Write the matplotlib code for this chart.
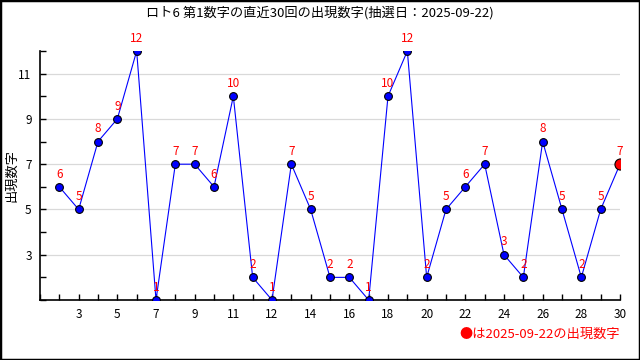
import matplotlib
matplotlib.use("Agg")
from matplotlib import pyplot as plt
from matplotlib.patches import Rectangle

plt.rcParams["font.family"] = ["Noto Sans CJK JP", "DejaVu Sans"]

draw_date = "2025-09-22"
draws = list(range(1, 31))
numbers = [6, 5, 8, 9, 12, 1, 7, 7, 6, 10, 2, 1, 7, 5, 2, 2, 1, 10, 12, 2,
           5, 6, 7, 3, 2, 8, 5, 2, 5, 7]
x_tick_pos = [2, 4, 6, 8, 10, 12, 14, 16, 18, 20, 22, 24, 26, 28, 30]
x_tick_labels = ["3", "5", "7", "9", "11", "12", "14", "16", "18", "20",
                 "22", "24", "26", "28", "30"]
y_grid = [3, 5, 7, 9, 11]

fig = plt.figure(figsize=(6.4, 3.6), dpi=100)
ax = fig.add_axes([40 / 640, 60 / 360, 580 / 640, 249 / 360])

ax.plot(draws, numbers, color="#0000ff", linewidth=0.8, zorder=3)
ax.plot(draws[:-1], numbers[:-1], "o", markersize=5.6, markerfacecolor="#0000ff",
        markeredgecolor="black", markeredgewidth=0.8, zorder=4)
ax.plot(draws[-1], numbers[-1], "o", markersize=8, markerfacecolor="#ff0000",
        markeredgecolor="black", markeredgewidth=0.8, zorder=4)

for x, v in zip(draws, numbers):
    ax.annotate(str(v), (x, v), xytext=(0, 4.5), textcoords="offset points",
                ha="center", va="bottom", color="red", fontsize=8.5, zorder=5)

ax.set_xlim(0, 30)
ax.set_ylim(1, 12)

# x: tick at every draw, label only on some
ax.set_xticks(range(0, 31))
labels = {p: l for p, l in zip(x_tick_pos, x_tick_labels)}
ax.set_xticklabels([labels.get(i, "") for i in range(0, 31)])
ax.set_yticks(range(1, 13))
ax.set_yticklabels([str(i) if i in y_grid else "" for i in range(1, 13)])
ax.tick_params(direction="in", length=4, width=1, labelsize=8.5, pad=6)

for g in y_grid:
    ax.axhline(g, color="#d9d9d9", linewidth=0.9, zorder=1)

ax.spines["top"].set_visible(False)
ax.spines["right"].set_visible(False)
for s in ("left", "bottom"):
    ax.spines[s].set_linewidth(1.2)

fig.text(12 / 640, 1 - 175 / 360, "出現数字", rotation=90,
         ha="center", va="center", fontsize=9.5)

fig.text(0.5, 1 - 13 / 360, f"ロト6 第1数字の直近30回の出現数字(抽選日：{draw_date})",
         ha="center", va="center", fontsize=9.5)
fig.text(620 / 640, 1 - 334 / 360, f"●は{draw_date}の出現数字",
         ha="right", va="center", fontsize=9.5, color="red")

fig.add_artist(Rectangle((0, 0), 1, 1, transform=fig.transFigure,
                         fill=False, edgecolor="black", linewidth=2.5))

fig.savefig("out.png", dpi=100)
